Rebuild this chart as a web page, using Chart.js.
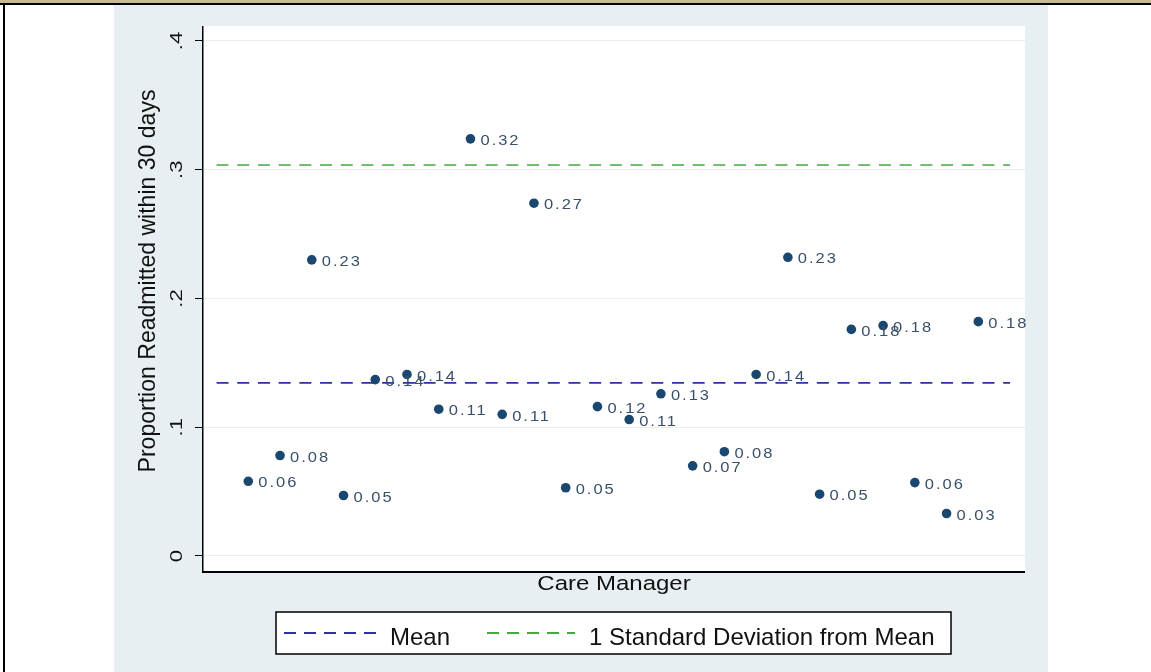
<!DOCTYPE html>
<html>
<head>
<meta charset="utf-8">
<script src="https://cdn.jsdelivr.net/npm/chart.js@4/dist/chart.umd.min.js"></script>
<style>
  html, body { margin: 0; padding: 0; background: #ffffff; width: 1151px; height: 672px; overflow: hidden; }
  #topbar  { position: absolute; left: 0; top: 0; width: 1151px; height: 3px; background: #c6bb93; }
  #topline { position: absolute; left: 0; top: 3px; width: 1151px; height: 2px; background: #000; }
  #leftline{ position: absolute; left: 3px; top: 3px; width: 2px; height: 669px; background: #000; }
  #panel   { position: absolute; left: 114px; top: 5px; width: 934px; height: 667px; background: #e8eff2; }
  canvas { display: block; }
</style>
</head>
<body>
<div id="topbar"></div>
<div id="topline"></div>
<div id="leftline"></div>
<div id="panel"><canvas id="c" width="934" height="667"></canvas></div>

<script>
// Care managers (1..24) and their 30-day readmission proportions
const managers = [1, 2, 3, 4, 5, 6, 7, 8, 9, 10, 11, 12, 13, 14, 15, 16, 17, 18, 19, 20, 21, 22, 23, 24];
const rates = [0.058, 0.078, 0.230, 0.047, 0.137, 0.141, 0.114, 0.324, 0.110, 0.274, 0.053, 0.116,
               0.106, 0.126, 0.070, 0.081, 0.141, 0.232, 0.048, 0.176, 0.179, 0.057, 0.033, 0.182];

// Reference lines
const meanRate = 0.1344;
const sdAbove = 0.3037;
const refLineSpan = [0, 25];

// Y axis ticks and their printed labels
const yTicks = [0, 0.1, 0.2, 0.3, 0.4];
const yTickLabels = ['0', '.1', '.2', '.3', '.4'];

const yTitle = 'Proportion Readmitted within 30 days';
const xTitle = 'Care Manager';
const legendNames = ['Mean', '1 Standard Deviation from Mean'];

const FONT = '"Liberation Sans", Arial, sans-serif';
const MARKER = '#1a476f';
const MEAN_COLOR = '#30309e';
const SD_COLOR = '#45a845';

// text helper with independent x/y stretch and rotation
function drawText(ctx, txt, x, y, size, sx, sy, rot, align, color, baseline) {
  ctx.save();
  ctx.translate(x, y);
  ctx.rotate(rot);
  ctx.scale(sx, sy);
  ctx.font = size + 'px ' + FONT;
  ctx.fillStyle = color;
  ctx.textAlign = align;
  ctx.textBaseline = baseline || 'middle';
  ctx.fillText(txt, 0, 0);
  ctx.restore();
}

const decor = {
  id: 'decor',
  beforeDraw(chart) {
    const { ctx, chartArea: a } = chart;
    ctx.save();
    ctx.fillStyle = '#ffffff';
    ctx.fillRect(a.left, a.top - 1, a.right - a.left, a.bottom - a.top + 1);
    ctx.restore();
  },
  afterDatasetsDraw(chart) {
    const { ctx } = chart;
    const meta = chart.getDatasetMeta(0);
    ctx.save();
    ctx.font = '15px ' + FONT;
    ctx.letterSpacing = '1.8px';
    ctx.fillStyle = '#3a5068';
    ctx.textAlign = 'left';
    ctx.textBaseline = 'middle';
    meta.data.forEach((el, i) => {
      ctx.save();
      ctx.translate(el.x + 10, el.y + 2);
      ctx.scale(1.1, 1);
      ctx.fillText(rates[i].toFixed(2), 0, 0);
      ctx.restore();
    });
    ctx.restore();
  },
  afterDraw(chart) {
    const { ctx, chartArea: a } = chart;
    const ys = chart.scales.y;
    // x axis line
    ctx.save();
    ctx.strokeStyle = '#000';
    ctx.lineWidth = 2;
    ctx.beginPath();
    ctx.moveTo(a.left - 1, a.bottom);
    ctx.lineTo(a.right, a.bottom);
    ctx.stroke();
    ctx.restore();

    // rotated y tick labels
    yTicks.forEach((v, i) => {
      drawText(ctx, yTickLabels[i], a.left - 26, ys.getPixelForValue(v), 17, 1.3, 1.0, -Math.PI / 2, 'center', '#111');
    });
    // y axis title
    drawText(ctx, yTitle, 34, 276, 24, 0.96, 1.0, -Math.PI / 2, 'center', '#111');
    // x axis title
    drawText(ctx, xTitle, (a.left + a.right) / 2, 585, 24, 1.0, 0.86, 0, 'center', '#111', 'alphabetic');

    // legend
    const bx = 162, by = 607, bw = 675, bh = 42;
    ctx.save();
    ctx.fillStyle = '#ffffff';
    ctx.fillRect(bx, by, bw, bh);
    ctx.strokeStyle = '#000';
    ctx.lineWidth = 1.5;
    ctx.strokeRect(bx, by, bw, bh);
    const cy = by + bh / 2;
    const items = [
      { color: MEAN_COLOR, x0: 170, x1: 262, tx: 276 },
      { color: SD_COLOR, x0: 373, x1: 461, tx: 475 }
    ];
    items.forEach((it, i) => {
      ctx.strokeStyle = it.color;
      ctx.lineWidth = 2;
      ctx.setLineDash([12, 8]);
      ctx.beginPath();
      ctx.moveTo(it.x0, cy);
      ctx.lineTo(it.x1, cy);
      ctx.stroke();
      ctx.setLineDash([]);
      drawText(ctx, legendNames[i], it.tx, by + 33, 24, 1.0, 1.0, 0, 'left', '#111', 'alphabetic');
    });
    ctx.restore();
  }
};

const refLine = (value, color) => ({
  type: 'line',
  data: refLineSpan.map(x => ({ x, y: value })),
  borderColor: color,
  borderWidth: 1.7,
  borderDash: [12, 8.7],
  pointRadius: 0,
  fill: false,
  order: 2
});

new Chart(document.getElementById('c'), {
  type: 'scatter',
  data: {
    datasets: [
      {
        label: 'Readmitted',
        data: managers.map((m, i) => ({ x: m, y: rates[i] })),
        backgroundColor: MARKER,
        borderWidth: 0,
        pointRadius: 4.8,
        order: 1
      },
      Object.assign(refLine(meanRate, MEAN_COLOR), { label: legendNames[0] }),
      Object.assign(refLine(sdAbove, SD_COLOR), { label: legendNames[1] })
    ]
  },
  options: {
    responsive: false,
    animation: false,
    events: [],
    layout: { padding: { left: 80, right: 23, top: 22, bottom: 100 } },
    plugins: { legend: { display: false }, tooltip: { enabled: false } },
    scales: {
      x: {
        type: 'linear',
        display: false,
        min: -0.427,
        max: 25.471
      },
      y: {
        type: 'linear',
        min: -0.01243,
        max: 0.41087,
        afterBuildTicks(scale) { scale.ticks = yTicks.map(v => ({ value: v })); },
        afterFit(scale) { scale.width = 9; },
        ticks: { display: false },
        grid: { color: '#ececec', lineWidth: 1, tickColor: '#000', tickLength: 8, drawTicks: true },
        border: { display: true, color: '#000', width: 1.5 }
      }
    }
  },
  plugins: [decor]
});
</script>
</body>
</html>
